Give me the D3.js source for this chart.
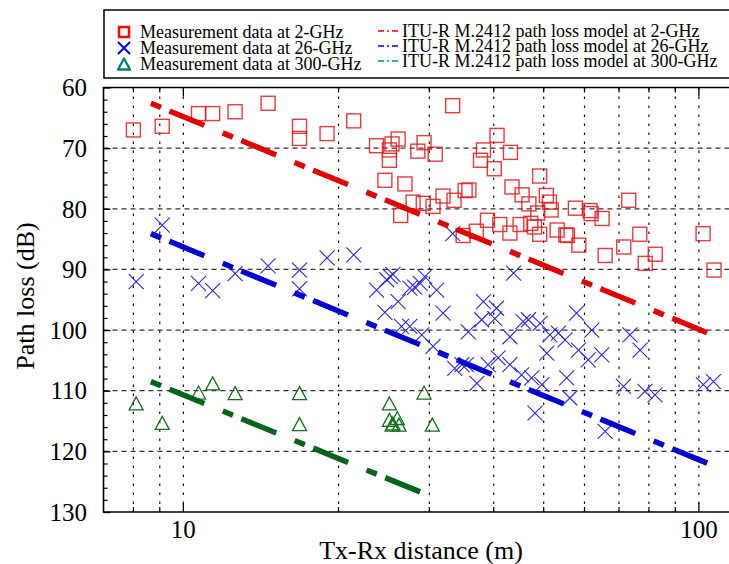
<!DOCTYPE html>
<html><head><meta charset="utf-8">
<script src="https://cdn.jsdelivr.net/npm/d3@7"></script>
<style>
html,body{margin:0;padding:0;background:#fff;}
svg{display:block;}
text{font-family:"Liberation Serif","Times New Roman",serif;fill:#000;}
</style></head>
<body>
<svg id="chart" width="729" height="564"></svg>
<script>
// ---- data (distance m, path loss dB) ----
const meas2GHz = [
 [8.0,67.0],[9.1,66.4],[10.7,64.3],[11.4,64.3],[12.6,64.0],[14.6,62.6],[16.8,66.4],[16.8,68.4],
 [19.0,67.6],[21.4,65.5],[23.7,69.6],[25.4,69.3],[26.1,68.5],[25.1,70.3],[25.1,72.0],[24.6,75.3],
 [26.9,75.9],[26.4,81.1],[27.9,78.9],[28.5,70.5],[29.3,69.1],[33.3,63.0],[30.8,71.0],[40.6,67.9],
 [38.2,70.3],[37.7,72.0],[40.1,73.4],[43.1,70.7],[49.1,74.6],[43.4,76.4],[45.4,77.7],[46.8,79.2],
 [50.6,77.8],[51.3,78.9],[51.7,80.2],[35.2,77.0],[35.8,76.9],[31.9,77.9],[33.5,78.6],[29.2,79.1],
 [30.5,79.6],[38.9,81.9],[41.1,82.6],[45.0,82.6],[47.2,82.4],[48.0,83.0],[49.1,84.2],[43.0,84.0],
 [34.9,84.4],[37.0,83.7],[48.7,80.7],[53.1,83.5],[55.2,84.3],[55.6,84.4],[58.5,86.0],[57.6,79.9],
 [61.5,80.3],[61.8,80.8],[64.9,81.6],[73.1,78.6],[76.8,84.2],[71.5,86.3],[65.8,87.7],[82.3,87.5],
 [78.7,89.0],[101.9,84.1],[107.0,90.1]
];
const meas26GHz = [
 [8.1,92.0],[9.1,82.7],[10.7,92.3],[11.4,93.5],[12.6,90.7],[14.6,89.4],[16.8,90.1],[16.8,93.2],
 [19.0,88.1],[21.4,87.6],[23.7,93.4],[24.8,91.7],[25.2,91.2],[25.5,90.8],[26.1,95.3],[24.6,97.1],
 [26.5,99.4],[27.5,99.4],[27.5,93.1],[28.1,92.9],[28.8,92.3],[29.4,91.2],[31.0,93.4],[33.3,84.1],
 [31.9,97.2],[29.0,100.8],[30.5,102.7],[33.6,106.3],[34.7,105.7],[35.4,105.7],[37.1,108.8],[38.2,95.3],
 [40.5,96.4],[37.9,98.3],[40.2,98.1],[35.7,100.3],[40.8,104.6],[39.0,105.7],[43.0,105.7],[43.7,90.6],
 [43.0,101.1],[45.6,98.6],[46.7,98.3],[49.2,98.9],[50.7,103.8],[51.4,100.8],[53.4,100.5],[55.0,101.6],
 [45.3,107.4],[47.4,107.9],[49.6,109.0],[48.1,113.7],[57.9,97.2],[58.4,103.3],[61.0,104.9],[62.0,100.0],
 [64.8,104.1],[55.4,107.9],[56.2,111.2],[65.8,116.7],[73.5,100.8],[76.9,103.3],[71.4,109.3],[78.6,110.1],
 [82.2,110.7],[102.0,109.0],[106.7,108.5]
];
const meas300GHz = [
 [8.1,112.1],[9.1,115.3],[10.7,110.3],[11.4,108.8],[12.6,110.4],[16.8,110.4],[16.8,115.5],[25.1,112.1],
 [25.1,114.8],[26.0,114.5],[25.5,115.4],[26.2,115.6],[25.4,115.6],[29.3,110.3],[30.4,115.6]
];
// model lines: start and end points
const model2GHz = [[8.65,62.6],[104.2,100.5]];
const model26GHz = [[8.65,84.1],[104.2,122.0]];
const model300GHz = [[8.65,108.5],[29.0,126.8]];

const xTicks = [8,9,10,20,30,40,50,60,70,80,90,100];
const xTickLabels = [10,100];
const yTicks = [60,70,80,90,100,110,120,130];
const legendMeas = ["Measurement data at 2-GHz","Measurement data at 26-GHz","Measurement data at 300-GHz"];
const legendModel = ["ITU-R M.2412 path loss model at 2-GHz","ITU-R M.2412 path loss model at 26-GHz","ITU-R M.2412 path loss model at 300-GHz"];

// ---- drawing ----
const svg = d3.select("#chart");
const L = 103.5, T = 87.5, B = 512;
const x = d3.scaleLog().domain([7,120]).range([L, 739.7]);
const y = d3.scaleLinear().domain([60,130]).range([T, B]);
const R = 740;

const grid = svg.append("g");
// horizontal dashed grid
grid.selectAll("line.h").data(yTicks.filter(v=>v>60&&v<130)).join("line")
  .attr("x1",L).attr("x2",R).attr("y1",d=>y(d)).attr("y2",d=>y(d))
  .attr("stroke","#333").attr("stroke-width",1.3).attr("stroke-dasharray","5,4");
// vertical dotted grid
grid.selectAll("line.v").data(xTicks).join("line")
  .attr("x1",d=>x(d)).attr("x2",d=>x(d)).attr("y1",T).attr("y2",B)
  .attr("stroke","#111").attr("stroke-width",1.2).attr("stroke-dasharray","2.5,6.5");

// axes via d3
const minorY = d3.range(62,130,2).filter(v=>v%10!==0);
const yAxis = d3.axisRight(y).tickValues(yTicks).tickSize(7).tickFormat("");
svg.append("g").attr("transform",`translate(${L},0)`).call(yAxis).call(g=>g.select(".domain").remove())
  .selectAll("line").attr("stroke","#000").attr("stroke-width",1.3);
svg.append("g").attr("transform",`translate(${L},0)`).call(d3.axisRight(y).tickValues(minorY).tickSize(4).tickFormat(""))
  .call(g=>g.select(".domain").remove()).selectAll("line").attr("stroke","#000").attr("stroke-width",1.2);
// y labels
svg.append("g").selectAll("text").data(yTicks).join("text")
  .attr("x",87).attr("y",d=>y(d)).attr("dy","0.35em").attr("text-anchor","end")
  .style("font-size","25px").text(d=>d);

// x ticks bottom and top
const xMajor = xTicks.filter(v=>xTickLabels.includes(v));
const xMinor = xTicks.filter(v=>!xTickLabels.includes(v));
[[B,-1],[T,1]].forEach(([yy,dir])=>{
  svg.append("g").selectAll("line").data(xMajor).join("line")
    .attr("x1",d=>x(d)).attr("x2",d=>x(d)).attr("y1",yy).attr("y2",yy+dir*9)
    .attr("stroke","#000").attr("stroke-width",1.3);
  svg.append("g").selectAll("line").data(xMinor).join("line")
    .attr("x1",d=>x(d)).attr("x2",d=>x(d)).attr("y1",yy).attr("y2",yy+dir*5)
    .attr("stroke","#000").attr("stroke-width",1.2);
});
svg.append("g").selectAll("text").data(xTickLabels).join("text")
  .attr("x",d=>x(d)).attr("y",538).attr("text-anchor","middle")
  .style("font-size","25px").text(d=>d);

// border
svg.append("path").attr("d",`M${R},${T}H${L}V${B}H${R}`).attr("fill","none")
  .attr("stroke","#000").attr("stroke-width",1.6);

// markers
const gm = svg.append("g");
gm.selectAll("rect").data(meas2GHz).join("rect")
  .attr("x",d=>x(d[0])-7).attr("y",d=>y(d[1])-7).attr("width",14).attr("height",14)
  .attr("fill","none").attr("stroke","#e31a1c").attr("stroke-opacity",0.85).attr("stroke-width",1.4);
const xPath = s=>`M${-s},${-s}L${s},${s}M${-s},${s}L${s},${-s}`;
gm.selectAll("path.x").data(meas26GHz).join("path")
  .attr("transform",d=>`translate(${x(d[0])},${y(d[1])})`).attr("d",xPath(7.5))
  .attr("fill","none").attr("stroke","#2a2ae0").attr("stroke-width",1.1);
const triPath = (w,h)=>`M0,${-h/2}L${w/2},${h/2}L${-w/2},${h/2}Z`;
gm.selectAll("path.t").data(meas300GHz).join("path")
  .attr("transform",d=>`translate(${x(d[0])},${y(d[1])})`).attr("d",triPath(14,13))
  .attr("fill","none").attr("stroke","#15701a").attr("stroke-width",1.3);

// model lines
const line = d3.line().x(d=>x(d[0])).y(d=>y(d[1]));
[[model2GHz,"#e00000"],[model26GHz,"#0000d2"],[model300GHz,"#006419"]].forEach(([m,c])=>{
  svg.append("path").attr("d",line(m)).attr("fill","none").attr("stroke",c)
    .attr("stroke-width",5.5).attr("stroke-dasharray","11,9.1,37.7,19.9");
});

// legend
const lg = svg.append("g");
lg.append("rect").attr("x",104).attr("y",10).attr("width",640).attr("height",68)
  .attr("fill","#fff").attr("stroke","#000").attr("stroke-width",1.5);
const rowsL = [32,48,64], rowsR = [31,46,61];
lg.selectAll("text.l").data(legendMeas).join("text").attr("x",140).attr("y",(d,i)=>rowsL[i])
  .attr("dy","0.35em").style("font-size","18px").text(d=>d);
lg.selectAll("text.r").data(legendModel).join("text").attr("x",402).attr("y",(d,i)=>rowsR[i])
  .attr("dy","0.35em").style("font-size","18px").text(d=>d);
lg.append("rect").attr("x",119).attr("y",rowsL[0]-5).attr("width",10).attr("height",10)
  .attr("fill","none").attr("stroke","#ff0000").attr("stroke-width",2.5);
lg.append("path").attr("transform",`translate(124,${rowsL[1]})`).attr("d",xPath(6))
  .attr("fill","none").attr("stroke","#0000ff").attr("stroke-width",2);
lg.append("path").attr("transform",`translate(124,${rowsL[2]})`).attr("d",triPath(12,11))
  .attr("fill","none").attr("stroke","#00846c").attr("stroke-width",2.3).attr("stroke-linejoin","round");
["#ff0000","#0000ff","#00906e"].forEach((c,i)=>{
  lg.append("line").attr("x1",378).attr("x2",399).attr("y1",rowsR[i]).attr("y2",rowsR[i])
    .attr("stroke",c).attr("stroke-width",1.5).attr("stroke-dasharray","6,3,2,3");
});

// axis titles
svg.append("text").attr("x",421).attr("y",559).attr("text-anchor","middle")
  .style("font-size","26px").text("Tx-Rx distance (m)");
svg.append("text").attr("transform","translate(25,296) rotate(-90)").attr("dy","0.35em")
  .attr("text-anchor","middle").style("font-size","26px").text("Path loss (dB)");
</script>
</body></html>
